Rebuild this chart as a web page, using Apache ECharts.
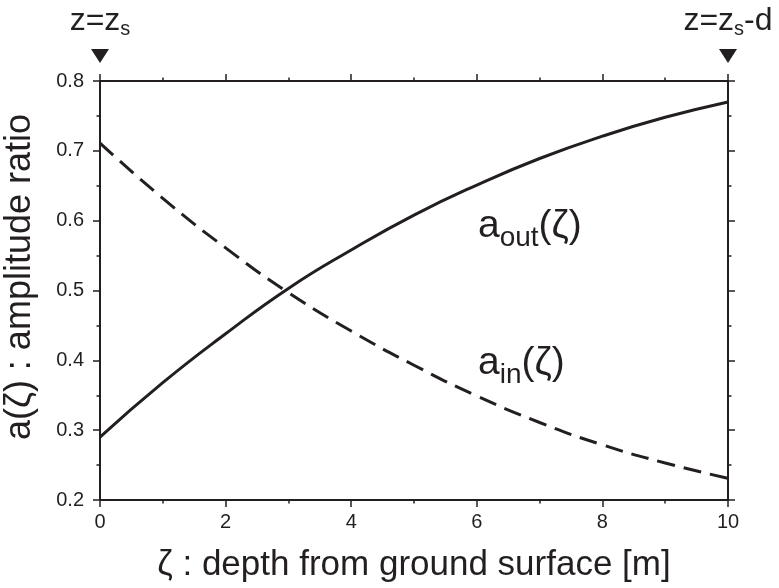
<!DOCTYPE html>
<html>
<head>
<meta charset="utf-8">
<script src="https://cdn.jsdelivr.net/npm/echarts@6/dist/echarts.min.js"></script>
<style>html,body{margin:0;padding:0;background:#fff}#c{width:779px;height:588px}</style>
</head>
<body>
<div id="c"></div>
<script>
// ---- data ----
const depth = [0, 1, 2, 3, 4, 5, 6, 7, 8, 9, 10];
const aOut  = [0.290, 0.368, 0.438, 0.503, 0.558, 0.608, 0.651, 0.689, 0.721, 0.748, 0.770];
const aIn   = [0.711, 0.632, 0.561, 0.497, 0.442, 0.393, 0.349, 0.311, 0.279, 0.253, 0.231];
const markerX = [0, 10];
const markerLabels = ['{z|z=z}{s|s}', '{z|z=z}{s|s}{z|-d}'];
const xTicks = [0, 2, 4, 6, 8, 10];
const yTicks = [0.2, 0.3, 0.4, 0.5, 0.6, 0.7, 0.8];

const INK = '#231f20';
const FF = '"Liberation Sans", Arial, Helvetica, sans-serif';

const chart = echarts.init(document.getElementById('c'), null, {renderer: 'canvas'});

function axisCommon() {
  return {
    axisLine: {show: true, onZero: false, lineStyle: {color: INK, width: 2}},
    axisTick: {show: true, inside: false, length: 7, lineStyle: {color: INK, width: 1.5}},
    minorTick: {show: true, splitNumber: 2, length: 3.5, lineStyle: {color: INK, width: 1.5}},
    splitLine: {show: false},
    minorSplitLine: {show: false},
  };
}

const option = {
  animation: false,
  backgroundColor: '#fff',
  grid: {left: 100, right: 51, top: 81, bottom: 88, containLabel: false, outerBoundsMode: 'none'},
  xAxis: [
    Object.assign({
      type: 'value', position: 'bottom', min: xTicks[0], max: xTicks[xTicks.length - 1], interval: 2,
      axisLabel: {show: true, color: INK, fontSize: 20, fontFamily: FF, margin: 12},
      name: 'ζ : depth from ground surface [m]',
      nameLocation: 'middle', nameGap: 48,
      nameTextStyle: {color: INK, fontSize: 35, fontFamily: FF}
    }, axisCommon()),
    Object.assign({
      type: 'value', position: 'top', min: xTicks[0], max: xTicks[xTicks.length - 1], interval: 2,
      axisLabel: {show: false}
    }, axisCommon())
  ],
  yAxis: [
    Object.assign({
      type: 'value', position: 'left', min: yTicks[0], max: yTicks[yTicks.length - 1], interval: 0.1,
      axisLabel: {show: true, color: INK, fontSize: 20, fontFamily: FF, margin: 16,
        formatter: v => v.toFixed(1)}
    }, axisCommon()),
    Object.assign({
      type: 'value', position: 'right', min: yTicks[0], max: yTicks[yTicks.length - 1], interval: 0.1,
      axisLabel: {show: false}
    }, axisCommon())
  ],
  series: [
    {
      name: 'a_out', type: 'line', smooth: true, symbol: 'none',
      xAxisIndex: 0, yAxisIndex: 0,
      data: depth.map((d, i) => [d, aOut[i]]),
      lineStyle: {color: INK, width: 3}
    },
    {
      name: 'a_in', type: 'line', smooth: true, symbol: 'none',
      xAxisIndex: 0, yAxisIndex: 0,
      data: depth.map((d, i) => [d, aIn[i]]),
      lineStyle: {color: INK, width: 3, type: [18, 9]}
    },
    {
      name: 'markers', type: 'scatter', clip: false, silent: true,
      xAxisIndex: 0, yAxisIndex: 0,
      symbol: 'triangle', symbolRotate: 180, symbolSize: [18, 14], symbolOffset: [0, -25],
      itemStyle: {color: INK, opacity: 1},
      data: markerX.map(x => [x, yTicks[yTicks.length - 1]]),
      label: {
        show: true, position: 'top', distance: 10, color: INK,
        formatter: p => markerLabels[p.dataIndex],
        rich: {
          z: {fontSize: 32, fontFamily: FF, color: INK},
          s: {fontSize: 20, fontFamily: FF, color: INK, padding: [15, 0, 0, 0]}
        }
      }
    }
  ],
  graphic: [
    {
      type: 'text', x: 20, y: 277, rotation: Math.PI / 2,
      style: {text: 'a(ζ) : amplitude ratio', fill: INK, font: '36px ' + FF, align: 'center', verticalAlign: 'middle'}
    },
    {
      type: 'text', x: 478, y: 226,
      style: {
        text: '{a|a}{s|out}{a|(ζ)}', align: 'left', verticalAlign: 'middle',
        rich: {
          a: {fontSize: 39, fontFamily: FF, fill: INK, color: INK},
          s: {fontSize: 28, fontFamily: FF, fill: INK, color: INK, padding: [24, 0, 0, 0]}
        }
      }
    },
    {
      type: 'text', x: 478, y: 363,
      style: {
        text: '{a|a}{s|in}{a|(ζ)}', align: 'left', verticalAlign: 'middle',
        rich: {
          a: {fontSize: 39, fontFamily: FF, fill: INK, color: INK},
          s: {fontSize: 28, fontFamily: FF, fill: INK, color: INK, padding: [24, 0, 0, 0]}
        }
      }
    }
  ]
};
chart.setOption(option);
</script>
</body>
</html>
